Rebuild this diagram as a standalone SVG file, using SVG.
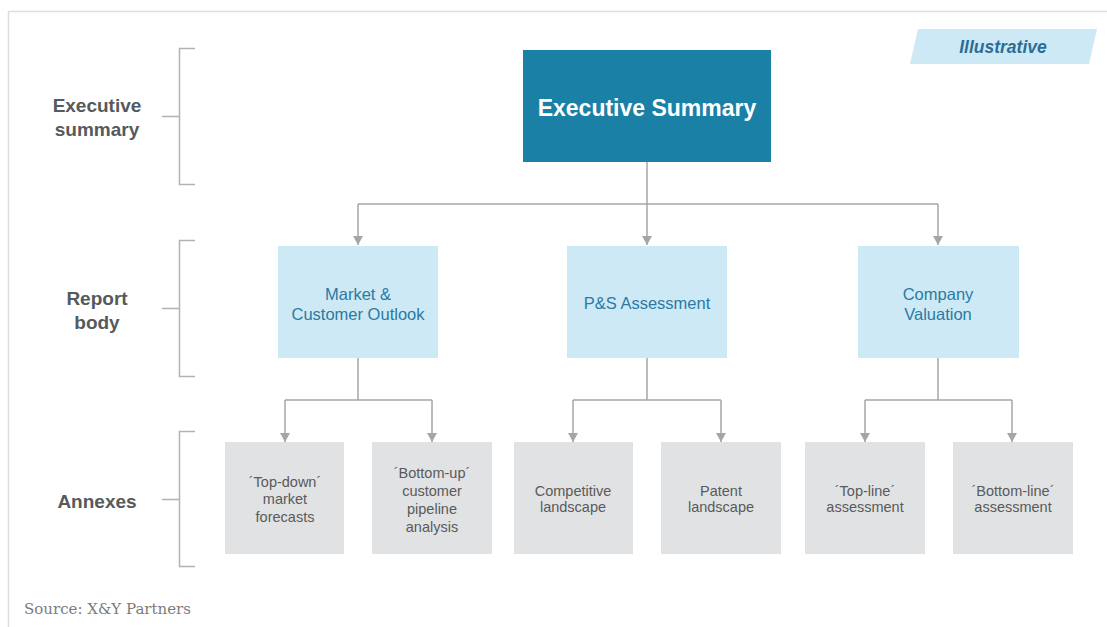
<svg xmlns="http://www.w3.org/2000/svg" width="1107" height="627" viewBox="0 0 1107 627">
  <style>
    .frame { stroke: #dedede; stroke-width: 1.5; fill: none; }
    .bracket { stroke: #b3b3b3; stroke-width: 1.5; fill: none; }
    .level { font-family: "Liberation Sans", Arial, sans-serif; font-weight: bold; font-size: 19px; fill: #555a5c; text-anchor: middle; }
    .exec-box { fill: #1b80a6; }
    .exec-text { font-family: "Liberation Sans", Arial, sans-serif; font-weight: bold; font-size: 23px; fill: #ffffff; text-anchor: middle; }
    .mid-box { fill: #cde9f5; }
    .mid-text { font-family: "Liberation Sans", Arial, sans-serif; font-size: 16.5px; fill: #2b7aa3; text-anchor: middle; }
    .annex-box { fill: #e0e2e4; }
    .annex-text { font-family: "Liberation Sans", Arial, sans-serif; font-size: 14.5px; fill: #5a5a5a; text-anchor: middle; }
    .conn { stroke: #a6a6a6; stroke-width: 1.5; fill: none; marker-end: url(#arrow); }
    .conn-plain { stroke: #a6a6a6; stroke-width: 1.5; fill: none; }
    .tag { fill: #cde9f5; }
    .tag-text { font-family: "Liberation Sans", Arial, sans-serif; font-weight: bold; font-style: italic; font-size: 17.5px; fill: #2a6e96; text-anchor: middle; }
    .source { font-family: "DejaVu Serif", "Liberation Serif", serif; font-size: 14.5px; fill: #7c7c7c; }
  </style>
  <defs>
    <!-- downward pointing arrowhead, tip at the end of the line -->
    <marker id="arrow" viewBox="0 0 9 10" markerWidth="9" markerHeight="10" refX="9" refY="5" orient="auto" markerUnits="userSpaceOnUse">
      <path d="M0,0 L9,5 L0,10 Z" fill="#a6a6a6"/>
    </marker>
  </defs>

  <rect width="1107" height="627" fill="#ffffff"/>

  <!-- page frame -->
  <path class="frame" d="M8.5,627 V11.5 H1107"/>

  <!-- level brackets -->
  <g id="level-executive">
    <path class="bracket" d="M195,48.5 H179.5 V184.5 H195 M162,116.5 H179.5"/>
    <text class="level" x="97" y="112">Executive</text>
    <text class="level" x="97" y="136">summary</text>
  </g>
  <g id="level-report">
    <path class="bracket" d="M195,240.5 H179.5 V376.5 H195 M162,308.5 H179.5"/>
    <text class="level" x="97" y="305">Report</text>
    <text class="level" x="97" y="329">body</text>
  </g>
  <g id="level-annexes">
    <path class="bracket" d="M195,431.5 H179.5 V566.5 H195 M162,499.5 H179.5"/>
    <text class="level" x="97" y="508">Annexes</text>
  </g>

  <!-- tag -->
  <g id="tag-illustrative">
    <polygon class="tag" points="918,29 1097,29 1089,64 910,64"/>
    <text class="tag-text" x="1003" y="53">Illustrative</text>
  </g>

  <!-- connectors -->
  <g id="connectors">
    <path class="conn-plain" d="M647,162 V204 M358,204 H938"/>
    <path class="conn" d="M358,204 V245"/>
    <path class="conn" d="M647,204 V245"/>
    <path class="conn" d="M938,204 V245"/>

    <path class="conn-plain" d="M358,358 V400 M285,400 H432"/>
    <path class="conn" d="M285,400 V442"/>
    <path class="conn" d="M432,400 V442"/>

    <path class="conn-plain" d="M647,358 V400 M573,400 H721"/>
    <path class="conn" d="M573,400 V442"/>
    <path class="conn" d="M721,400 V442"/>

    <path class="conn-plain" d="M938,358 V400 M865,400 H1012"/>
    <path class="conn" d="M865,400 V442"/>
    <path class="conn" d="M1012,400 V442"/>
  </g>

  <!-- top node -->
  <g id="node-executive-summary">
    <rect class="exec-box" x="523" y="50" width="248" height="112"/>
    <text class="exec-text" x="647" y="116">Executive Summary</text>
  </g>

  <!-- report body nodes -->
  <g id="node-market">
    <rect class="mid-box" x="278" y="246" width="160" height="112"/>
    <text class="mid-text" x="358" y="300">Market &amp;</text>
    <text class="mid-text" x="358" y="320">Customer Outlook</text>
  </g>
  <g id="node-ps">
    <rect class="mid-box" x="567" y="246" width="160" height="112"/>
    <text class="mid-text" x="647" y="309">P&amp;S Assessment</text>
  </g>
  <g id="node-valuation">
    <rect class="mid-box" x="858" y="246" width="161" height="112"/>
    <text class="mid-text" x="938" y="300">Company</text>
    <text class="mid-text" x="938" y="320">Valuation</text>
  </g>

  <!-- annex nodes -->
  <g id="node-top-down">
    <rect class="annex-box" x="225" y="442" width="119" height="112"/>
    <text class="annex-text" x="285" y="487">´Top-down´</text>
    <text class="annex-text" x="285" y="504">market</text>
    <text class="annex-text" x="285" y="522">forecasts</text>
  </g>
  <g id="node-bottom-up">
    <rect class="annex-box" x="372" y="442" width="120" height="112"/>
    <text class="annex-text" x="432" y="478">´Bottom-up´</text>
    <text class="annex-text" x="432" y="496">customer</text>
    <text class="annex-text" x="432" y="514">pipeline</text>
    <text class="annex-text" x="432" y="532">analysis</text>
  </g>
  <g id="node-competitive">
    <rect class="annex-box" x="514" y="442" width="119" height="112"/>
    <text class="annex-text" x="573" y="496">Competitive</text>
    <text class="annex-text" x="573" y="512">landscape</text>
  </g>
  <g id="node-patent">
    <rect class="annex-box" x="661" y="442" width="120" height="112"/>
    <text class="annex-text" x="721" y="496">Patent</text>
    <text class="annex-text" x="721" y="512">landscape</text>
  </g>
  <g id="node-top-line">
    <rect class="annex-box" x="805" y="442" width="120" height="112"/>
    <text class="annex-text" x="865" y="496">´Top-line´</text>
    <text class="annex-text" x="865" y="512">assessment</text>
  </g>
  <g id="node-bottom-line">
    <rect class="annex-box" x="953" y="442" width="120" height="112"/>
    <text class="annex-text" x="1013" y="496">´Bottom-line´</text>
    <text class="annex-text" x="1013" y="512">assessment</text>
  </g>

  <text class="source" x="24" y="614" textLength="167" lengthAdjust="spacingAndGlyphs">Source: X&amp;Y Partners</text>
</svg>
